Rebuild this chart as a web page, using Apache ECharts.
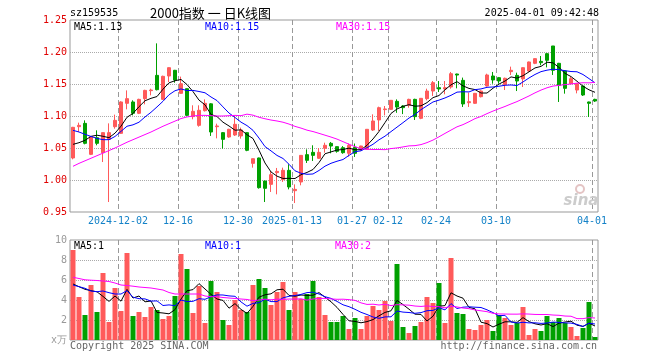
<!DOCTYPE html>
<html><head><meta charset="utf-8">
<script src="https://cdn.jsdelivr.net/npm/echarts@6/dist/echarts.min.js"></script>
<style>html,body{margin:0;padding:0;background:#fff}#c{width:660px;height:360px}</style>
</head><body><div id="c"></div>
<script>
const dates = [
'2024-11-20','2024-11-21','2024-11-22','2024-11-25','2024-11-26','2024-11-27','2024-11-28','2024-11-29',
'2024-12-02','2024-12-03','2024-12-04','2024-12-05','2024-12-06','2024-12-09','2024-12-10','2024-12-11','2024-12-12','2024-12-13',
'2024-12-16','2024-12-17','2024-12-18','2024-12-19','2024-12-20','2024-12-23','2024-12-24','2024-12-25','2024-12-26','2024-12-27',
'2024-12-30','2024-12-31','2025-01-02','2025-01-03','2025-01-06','2025-01-07','2025-01-08','2025-01-09','2025-01-10',
'2025-01-13','2025-01-14','2025-01-15','2025-01-16','2025-01-17','2025-01-20','2025-01-21','2025-01-22','2025-01-23','2025-01-24',
'2025-01-27','2025-02-05','2025-02-06','2025-02-07','2025-02-10','2025-02-11',
'2025-02-12','2025-02-13','2025-02-14','2025-02-17','2025-02-18','2025-02-19','2025-02-20','2025-02-21',
'2025-02-24','2025-02-25','2025-02-26','2025-02-27','2025-02-28','2025-03-03','2025-03-04','2025-03-05','2025-03-06','2025-03-07',
'2025-03-10','2025-03-11','2025-03-12','2025-03-13','2025-03-14','2025-03-17','2025-03-18','2025-03-19','2025-03-20','2025-03-21',
'2025-03-24','2025-03-25','2025-03-26','2025-03-27','2025-03-28','2025-03-31','2025-04-01'];

const tickDates = ['2024-12-02','2024-12-16','2024-12-30','2025-01-13','2025-01-27','2025-02-12','2025-02-24','2025-03-10','2025-04-01'];
const tickLabels = ['2024-12-02','12-16','12-30','2025-01-13','01-27','02-12','02-24','03-10','04-01'];

const opens = [1.0344,1.0833,1.0885,1.0401,1.0661,1.0427,1.0635,1.0833,1.0729,1.1198,
1.1219,1.1042,1.1271,1.1396,1.1635,1.1260,1.1625,1.1714,1.1354,1.1427,
1.0990,1.0854,1.1083,1.1190,1.0833,1.0740,1.0672,1.0703,1.0688,1.0740,
1.0260,1.0344,0.9984,0.9932,1.0115,1.0005,1.0151,0.9833,0.9969,1.0396,
1.0432,1.0339,1.0495,1.0573,1.0521,1.0505,1.0417,1.0510,1.0480,1.0480,
1.0781,1.0938,1.1100,1.1104,1.1229,1.1156,1.1167,1.1260,1.0964,1.1271,
1.1390,1.1443,1.1422,1.1453,1.1656,1.1557,1.1208,1.1198,1.1302,1.1469,
1.1625,1.1599,1.1490,1.1693,1.1635,1.1580,1.1703,1.1823,1.1854,1.1974,
1.2094,1.1823,1.1703,1.1505,1.1406,1.1469,1.1219,1.1260];
const closes = [1.0823,1.0854,1.0573,1.0677,1.0573,1.0740,1.0740,1.0932,1.1219,1.1271,
1.1042,1.1260,1.1400,1.1406,1.1411,1.1620,1.1755,1.1563,1.1505,1.1010,
1.1073,1.1089,1.1198,1.0750,1.0844,1.0635,1.0792,1.0870,1.0781,1.0464,
1.0333,0.9880,0.9870,1.0083,1.0135,1.0151,0.9891,0.9854,1.0385,1.0307,
1.0385,1.0432,1.0542,1.0531,1.0448,1.0427,1.0542,1.0417,1.0531,1.0792,
1.0922,1.1130,1.1110,1.1245,1.1140,1.1130,1.1260,1.0990,1.1276,1.1390,
1.1521,1.1422,1.1443,1.1661,1.1640,1.1188,1.1224,1.1354,1.1390,1.1641,
1.1563,1.1547,1.1589,1.1714,1.1547,1.1755,1.1844,1.1896,1.1833,1.1870,
1.1714,1.1479,1.1432,1.1583,1.1505,1.1328,1.1198,1.1234];
const lows = [1.0323,1.0750,1.0557,1.0390,1.0542,1.0281,0.9656,1.0802,1.0720,1.1104,
1.1010,1.1030,1.1182,1.1323,1.1400,1.1250,1.1530,1.1520,1.1350,1.1000,
1.0948,1.0833,1.1070,1.0688,1.0651,1.0490,1.0660,1.0688,1.0646,1.0450,
1.0193,0.9865,0.9656,0.9813,0.9776,0.9970,0.9854,0.9640,0.9917,1.0266,
1.0297,1.0330,1.0427,1.0417,1.0427,1.0410,1.0365,1.0360,1.0460,1.0475,
1.0766,1.0766,1.1010,1.1100,1.1050,1.1030,1.1130,1.0938,1.0950,1.1245,
1.1313,1.1375,1.1339,1.1427,1.1432,1.1141,1.1141,1.1190,1.1290,1.1460,
1.1505,1.1505,1.1406,1.1641,1.1390,1.1453,1.1690,1.1810,1.1792,1.1760,
1.1641,1.1219,1.1349,1.1500,1.1354,1.1313,1.0984,1.1219];
const highs = [1.0830,1.0896,1.0932,1.0688,1.0776,1.0745,1.0885,1.1021,1.1230,1.1400,
1.1245,1.1270,1.1410,1.1427,1.2135,1.1630,1.1760,1.1720,1.1615,1.1430,
1.1167,1.1167,1.1260,1.1200,1.0880,1.0750,1.0800,1.1000,1.0818,1.0745,
1.0333,1.0350,0.9990,1.0140,1.0188,1.0193,1.0245,0.9932,1.0385,1.0479,
1.0542,1.0500,1.0583,1.0594,1.0525,1.0530,1.0570,1.0570,1.0535,1.0795,
1.1026,1.1146,1.1156,1.1250,1.1260,1.1170,1.1270,1.1270,1.1280,1.1427,
1.1547,1.1547,1.1547,1.1688,1.1661,1.1600,1.1365,1.1360,1.1400,1.1661,
1.1688,1.1610,1.1600,1.1771,1.1677,1.1760,1.1850,1.1900,1.1938,1.1980,
1.2094,1.1830,1.1710,1.1610,1.1510,1.1470,1.1224,1.1270];
const volumes = [9.0,4.3,2.5,5.5,2.8,6.7,1.8,5.2,2.9,8.7,
2.4,2.8,2.3,3.3,3.0,2.1,2.4,4.4,8.6,7.1,
2.7,5.4,1.7,5.9,4.8,2.0,1.5,4.0,3.0,2.8,
5.5,6.1,5.2,3.5,4.8,5.8,3.0,4.8,4.1,4.6,
5.9,4.3,2.5,1.8,1.8,2.4,1.1,2.2,1.1,2.4,
3.4,3.0,3.9,1.9,7.6,1.3,0.7,1.4,1.8,4.3,
3.7,5.7,1.7,8.2,2.7,2.6,1.1,1.0,1.5,2.0,
0.9,2.5,2.2,1.5,1.7,3.3,0.5,1.1,0.9,2.4,
1.8,2.2,1.7,1.3,0.4,1.2,3.8,0.3];

// moving-average values before enough in-window days exist
const ma5Lead = [1.0557,1.0583,1.0620,1.0682];
const ma10Lead = [1.0776,1.0750,1.0714,1.0680,1.0650,1.0630,1.0630,1.0680,1.0760];
const ma30Lead = [1.0214,1.0260,1.0300,1.0340,1.0380,1.0420,1.0460,1.0500,1.0545,1.0590,
1.0630,1.0670,1.0710,1.0750,1.0795,1.0840,1.0880,1.0920,1.0960,1.0985,
1.1000,1.1010,1.1010,1.1005,1.1000,1.1000,1.1005,1.1010,1.1005];
const vma5Lead = [5.6,5.33,5.07,4.93];
const vma10Lead = [5.5,5.33,5.17,4.9,4.83,4.9,4.73,4.6,4.6];
const vma30Lead = [6.27,6.15,6.02,5.98,5.95,5.9,5.85,5.7,5.5,5.45,
5.38,5.3,5.25,5.2,5.1,5.0,4.75,4.6,4.6,4.6,
4.6,4.6,4.4,4.33,4.33,4.25,4.2,4.15,4.1];

function movingAvg(src, n, lead) {
  return src.map((_, i) => {
    if (i < n - 1) return lead[i];
    let s = 0;
    for (let k = i - n + 1; k <= i; k++) s += src[k];
    return +(s / n).toFixed(4);
  });
}
const ma5 = movingAvg(closes, 5, ma5Lead);
const ma10 = movingAvg(closes, 10, ma10Lead);
const ma30 = movingAvg(closes, 30, ma30Lead);
const vma5 = movingAvg(volumes, 5, vma5Lead);
const vma10 = movingAvg(volumes, 10, vma10Lead);
const vma30 = movingAvg(volumes, 30, vma30Lead);

const UP = '#ff5a5a', DOWN = '#00a000';
const MONO = '"DejaVu Sans Mono", monospace';
const tickIdxArr = tickDates.map(d => dates.indexOf(d));
const tickIdx = new Set(tickIdxArr);
const labelMap = {};
tickDates.forEach((d, i) => labelMap[d] = tickLabels[i]);
const last = dates.length - 1;
const trunc = (v, d) => (Math.floor(v * Math.pow(10, d) + 1e-9) / Math.pow(10, d)).toFixed(d);

const chart = echarts.init(document.getElementById('c'), null, {renderer: 'canvas'});
const txt = (text, x, y, color, font, align) => ({
  type: 'text', silent: true, z: 100,
  style: {text, x, y, fill: color, font, textAlign: align || 'left', align: align || 'left', textVerticalAlign: 'middle', verticalAlign: 'middle'}
});
// dashed vertical grid lines at the left edge of each labelled day's band
const vGrid = (xi, yi, yv) => ({
  type: 'custom', xAxisIndex: xi, yAxisIndex: yi, silent: true, z: 1,
  data: tickIdxArr.map(i => [i, yv]),
  encode: {x: 0, y: 1},
  renderItem: (params, api) => {
    const p = api.coord([api.value(0), api.value(1)]);
    const bw = api.size([1, 0])[0];
    const x = Math.round(p[0] - bw / 2) + 0.5;
    const cs = params.coordSys;
    return {type: 'line', silent: true,
      shape: {x1: x, y1: cs.y, x2: x, y2: cs.y + cs.height},
      style: {stroke: '#999', lineWidth: 1, lineDash: [5, 3]}};
  }
});

chart.setOption({
  animation: false,
  backgroundColor: '#fff',
  grid: [
    {left: 70, width: 528, top: 20, height: 192, show: true, borderColor: '#999', borderWidth: 1, backgroundColor: 'transparent'},
    {left: 70, width: 528, top: 240, height: 100, show: true, borderColor: '#999', borderWidth: 1, backgroundColor: 'transparent'}
  ],
  xAxis: [
    {type: 'category', gridIndex: 0, data: dates, boundaryGap: true,
     axisLine: {show: false}, axisTick: {show: false},
     axisLabel: {interval: (i) => tickIdx.has(i), formatter: (v) => labelMap[v] || '', color: '#1482c8',
                 fontFamily: MONO, fontSize: 10, margin: 4, padding: [0, 6, 0, 0]},
     splitLine: {show: false}},
    {type: 'category', gridIndex: 1, data: dates, boundaryGap: true,
     axisLine: {show: false}, axisTick: {show: false}, axisLabel: {show: false},
     splitLine: {show: false}}
  ],
  yAxis: [
    {type: 'value', gridIndex: 0, min: 0.95, max: 1.25, interval: 0.05, scale: true,
     axisLine: {show: false}, axisTick: {show: false},
     axisLabel: {color: '#e00000', fontFamily: MONO, fontSize: 10, margin: 3, formatter: (v) => v.toFixed(2)},
     splitLine: {show: true, showMinLine: false, showMaxLine: false, lineStyle: {color: '#aaa', type: 'dotted', width: 1}}},
    {type: 'value', gridIndex: 1, min: 0, max: 10, interval: 2,
     axisLine: {show: false}, axisTick: {show: false},
     axisLabel: {color: '#999', fontFamily: MONO, fontSize: 10, margin: 3, formatter: (v) => v === 0 ? 'x万' : String(v)},
     splitLine: {show: true, showMinLine: false, showMaxLine: false, lineStyle: {color: '#aaa', type: 'dotted', width: 1}}}
  ],
  series: [
    vGrid(0, 0, 1.1),
    vGrid(1, 1, 5),
    {type: 'candlestick', xAxisIndex: 0, yAxisIndex: 0, barWidth: 4, z: 3,
     data: dates.map((d, i) => [opens[i], closes[i], lows[i], highs[i]]),
     itemStyle: {color: UP, color0: DOWN, borderColor: UP, borderColor0: DOWN, borderWidth: 1}},
    {type: 'line', xAxisIndex: 0, yAxisIndex: 0, data: ma5, symbol: 'none', lineStyle: {color: '#000', width: 1}, z: 5},
    {type: 'line', xAxisIndex: 0, yAxisIndex: 0, data: ma10, symbol: 'none', lineStyle: {color: '#0000ff', width: 1}, z: 5},
    {type: 'line', xAxisIndex: 0, yAxisIndex: 0, data: ma30, symbol: 'none', lineStyle: {color: '#ff00ff', width: 1}, z: 5},
    {type: 'bar', xAxisIndex: 1, yAxisIndex: 1, barWidth: 5, z: 3,
     data: volumes.map((v, i) => ({value: v, itemStyle: {color: closes[i] >= opens[i] ? UP : DOWN}}))},
    {type: 'line', xAxisIndex: 1, yAxisIndex: 1, data: vma5, symbol: 'none', lineStyle: {color: '#000', width: 1}, z: 5},
    {type: 'line', xAxisIndex: 1, yAxisIndex: 1, data: vma10, symbol: 'none', lineStyle: {color: '#0000ff', width: 1}, z: 5},
    {type: 'line', xAxisIndex: 1, yAxisIndex: 1, data: vma30, symbol: 'none', lineStyle: {color: '#ff00ff', width: 1}, z: 5}
  ],
  graphic: [
    txt('sz159535', 70, 13, '#000', '10px ' + MONO),
    txt('2000指数 一 日K线图', 150, 13, '#000', '13px "Noto Sans CJK SC"'),
    txt('2025-04-01 09:42:48', 599, 13, '#000', '10px ' + MONO, 'right'),
    txt('MA5:' + trunc(ma5[last], 2), 74, 27, '#000', '10px ' + MONO),
    txt('MA10:' + trunc(ma10[last], 2), 205, 27, '#0000ff', '10px ' + MONO),
    txt('MA30:' + trunc(ma30[last], 2), 336, 27, '#ff00ff', '10px ' + MONO),
    txt('MA5:' + trunc(vma5[last], 0), 74, 246, '#000', '10px ' + MONO),
    txt('MA10:' + trunc(vma10[last], 0), 205, 246, '#0000ff', '10px ' + MONO),
    txt('MA30:' + trunc(vma30[last], 0), 335, 246, '#ff00ff', '10px ' + MONO),
    txt('Copyright 2025 SINA.COM', 70, 346, '#666', '10px ' + MONO),
    txt('http://finance.sina.com.cn', 597, 346, '#666', '10px ' + MONO, 'right'),
    {type: 'circle', silent: true, z: 1, shape: {cx: 580, cy: 189, r: 4}, style: {fill: 'none', stroke: '#e4c4c4', lineWidth: 2}},
    txt('sina', 581, 201, '#cccccc', 'italic bold 15px "DejaVu Sans"', 'center')
  ]
});
</script></body></html>
